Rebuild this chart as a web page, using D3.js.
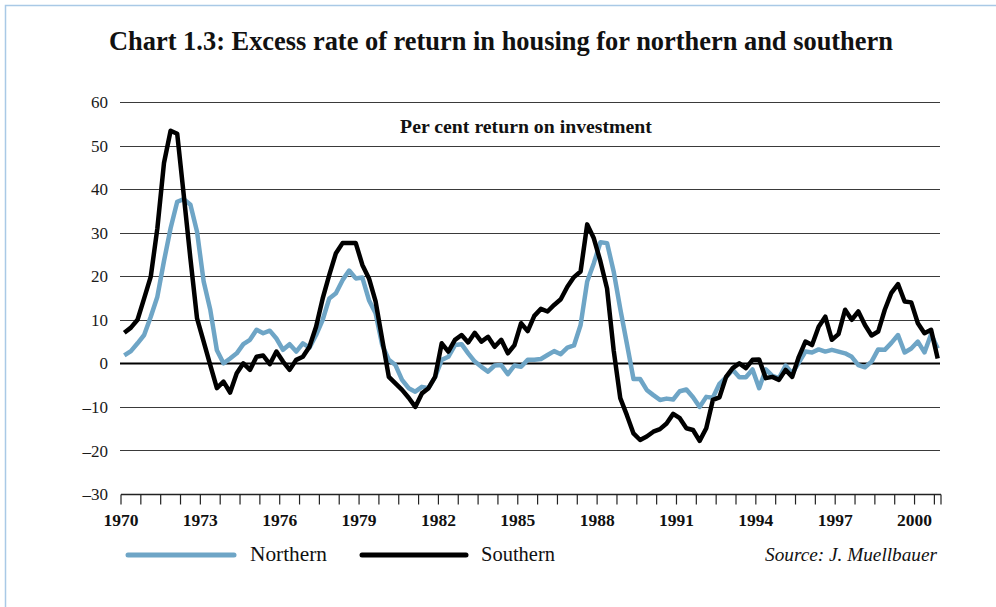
<!DOCTYPE html>
<html><head><meta charset="utf-8">
<script src="https://cdn.jsdelivr.net/npm/d3@7"></script>
<style>body{margin:0;background:#fff} svg{display:block}</style>
</head><body><svg id="c" width="996" height="607"></svg>
<script>
// Quarterly data, 1970Q1 - 2000Q4 (per cent)
const northern = [
 1.8, 2.8, 4.6, 6.5, 10.7, 15.3, 23.5, 31, 37.1, 37.7, 36.4, 30.2, 18.8, 12.3, 3, 0,
 1.1, 2.3, 4.4, 5.4, 7.7, 6.9, 7.5, 5.7, 3.1, 4.4, 2.7, 4.6, 3.6, 6.5, 10, 14.9,
 16.1, 19.1, 21.3, 19.5, 19.7, 14.5, 11.5, 4.2, 0.8, -0.4, -3.8, -5.7, -6.5, -5.4, -5.7, -3.1,
 0.8, 1.5, 4.2, 4.4, 2.3, 0.4, -0.8, -1.9, -0.5, -0.4, -2.5, -0.5, -0.8, 0.8, 0.8, 1.0,
 1.9, 2.8, 2.1, 3.6, 4.1, 8.8, 18.8, 23, 27.8, 27.6, 21.1, 12.5, 4.5, -3.6, -3.6, -6.1,
 -7.3, -8.4, -8.1, -8.3, -6.4, -6.0, -7.8, -10, -7.7, -7.9, -4.7, -3.2, -1.5, -3.2, -3.2, -1.4,
 -5.7, -1.4, -2.9, -3.4, -0.5, -2.3, 0.2, 2.7, 2.5, 3.2, 2.7, 3.1, 2.7, 2.3, 1.5, -0.4,
 -0.9, 0.4, 3.2, 3.1, 4.7, 6.5, 2.5, 3.4, 5.0, 2.5, 6.7, 3.4
];
const southern = [
 7.0, 8.2, 10.0, 14.9, 19.9, 31, 46, 53.4, 52.7, 38.5, 24, 10.3, 5.0, -0.4, -5.7, -4.2,
 -6.7, -2.3, 0, -1.5, 1.5, 1.8, -0.2, 2.7, 0.4, -1.5, 0.8, 1.5, 3.8, 8.4, 14.9, 20.3,
 25.3, 27.6, 27.6, 27.6, 22.6, 19.5, 14.2, 5.5, -3.1, -4.6, -6.1, -7.9, -10, -6.9, -5.7, -3.1,
 4.6, 2.7, 5.4, 6.5, 4.8, 7.0, 5.0, 6.1, 3.8, 5.4, 2.3, 4.2, 9.2, 7.4, 10.9, 12.5,
 11.9, 13.4, 14.7, 17.6, 19.8, 21.1, 31.9, 28.7, 23.4, 17.2, 3, -8, -11.9, -16.1, -17.6, -16.8,
 -15.7, -15.1, -13.8, -11.6, -12.6, -14.9, -15.3, -17.8, -14.9, -8.4, -7.8, -3.1, -1.1, 0, -1.1, 0.8,
 0.9, -3.4, -3.1, -3.8, -1.5, -3.1, 1.5, 5.0, 4.2, 8.4, 10.7, 5.4, 6.7, 12.3, 10.0, 11.9,
 8.8, 6.4, 7.3, 12.3, 16.2, 18.2, 14.2, 14.0, 9.2, 6.9, 7.7, 1.1
];
const yTicks = [60, 50, 40, 30, 20, 10, 0, -10, -20, -30];
const yearLabels = ["1970","1973","1976","1979","1982","1985","1988","1991","1994","1997","2000"];
const seriesNames = ["Northern", "Southern"];
const seriesColors = ["#6ea5c6", "#000000"];
const titleText = "Chart 1.3: Excess rate of return in housing for northern and southern";
const subtitleText = "Per cent return on investment";
const sourceText = "Source: J. Muellbauer";

const SERIF = "'Liberation Serif','DejaVu Serif',serif";
const svg = d3.select("#c");
svg.append("rect").attr("width", 996).attr("height", 607).attr("fill", "#fff");
svg.append("path").attr("d", "M5.5,607 V5.5 H996").attr("fill", "none")
   .attr("stroke", "#a9c9e6").attr("stroke-width", 1.5);

function fit(sel, target) {
  const n = sel.node();
  const w = n.getComputedTextLength();
  const fs = parseFloat(sel.attr("font-size"));
  if (w > 0) sel.attr("font-size", (fs * target / w).toFixed(2));
}

const nQ = northern.length;
const x = d3.scaleLinear().domain([0, nQ]).range([121, 941]);
const y = d3.scaleLinear().domain([-30, 60]).range([494, 102]);

// title
const t = svg.append("text").attr("x", 501).attr("y", 50).attr("text-anchor", "middle")
  .attr("font-family", SERIF).attr("font-weight", "bold").attr("font-size", 23)
  .attr("fill", "#111").text(titleText);
fit(t, 784);

// gridlines
svg.append("g").selectAll("line").data(yTicks.filter(d => d !== -30)).join("line")
  .attr("x1", 120).attr("x2", 940)
  .attr("y1", d => Math.round(y(d)) + 0.5).attr("y2", d => Math.round(y(d)) + 0.5)
  .attr("stroke", d => d === 0 ? "#000" : "#3a3a3a")
  .attr("stroke-width", d => d === 0 ? 2 : 1);

// y labels
svg.append("g").selectAll("text").data(yTicks).join("text")
  .attr("x", 108).attr("y", d => y(d)).attr("dy", "0.36em").attr("text-anchor", "end")
  .attr("font-family", SERIF).attr("font-size", 17).attr("fill", "#1a1a1a")
  .text(d => d < 0 ? "\u2013" + Math.abs(d) : String(d));

// x axis
const axisY = Math.round(y(-30)) + 0.5;
svg.append("line").attr("x1", 121).attr("x2", 941).attr("y1", axisY).attr("y2", axisY)
  .attr("stroke", "#222").attr("stroke-width", 1.3);
const tickIdx = d3.range(0, nQ, 3).concat([nQ]);
svg.append("g").selectAll("line").data(tickIdx).join("line")
  .attr("x1", d => x(d)).attr("x2", d => x(d)).attr("y1", axisY).attr("y2", axisY + 10)
  .attr("stroke", "#222").attr("stroke-width", 1.2);
svg.append("g").selectAll("text").data(yearLabels).join("text")
  .attr("x", (d, i) => x(i * 12)).attr("y", 526).attr("text-anchor", "middle")
  .attr("font-family", SERIF).attr("font-weight", "bold").attr("font-size", 17.5)
  .attr("fill", "#111").text(d => d);

// subtitle
const st = svg.append("text").attr("x", 526).attr("y", 133).attr("text-anchor", "middle")
  .attr("font-family", SERIF).attr("font-weight", "bold").attr("font-size", 17)
  .attr("fill", "#111").text(subtitleText);
fit(st, 252);

// lines
const line = d3.line().x((d, i) => x(i + 0.5)).y(d => y(d));
[northern, southern].forEach((s, k) => {
  svg.append("path").datum(s).attr("d", line).attr("fill", "none")
    .attr("stroke", seriesColors[k]).attr("stroke-width", 4.5)
    .attr("stroke-linejoin", "round");
});

// legend
const legX = [[128, 234, 250, 77], [362, 466, 481, 74]];
seriesNames.forEach((nm, k) => {
  svg.append("line").attr("x1", legX[k][0]).attr("x2", legX[k][1]).attr("y1", 555).attr("y2", 555)
    .attr("stroke", seriesColors[k]).attr("stroke-width", 5).attr("stroke-linecap", "round");
  const lt = svg.append("text").attr("x", legX[k][2]).attr("y", 561)
    .attr("font-family", SERIF).attr("font-size", 18).attr("fill", "#111").text(nm);
  fit(lt, legX[k][3]);
});
const so = svg.append("text").attr("x", 937).attr("y", 561).attr("text-anchor", "end")
  .attr("font-family", SERIF).attr("font-style", "italic").attr("font-size", 18)
  .attr("fill", "#111").text(sourceText);
fit(so, 172);
</script></body></html>
